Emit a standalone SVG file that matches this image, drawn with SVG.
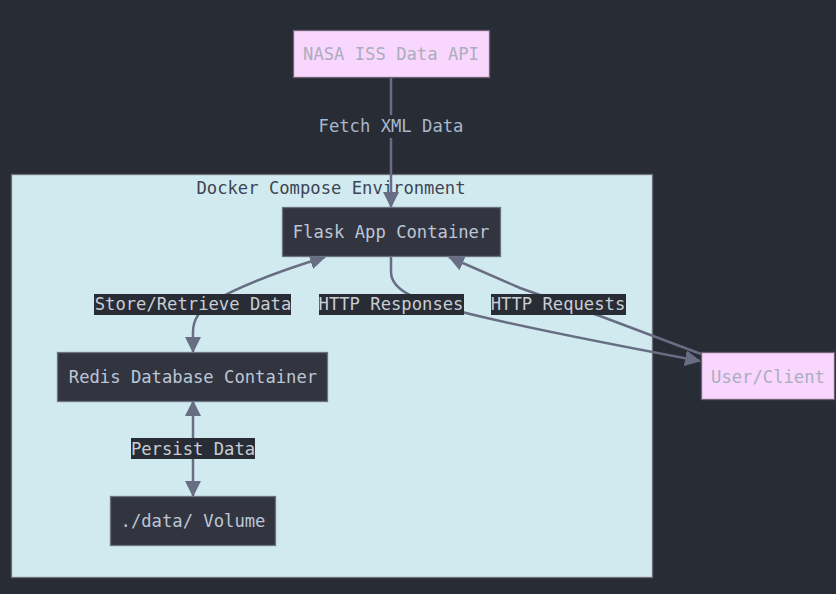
<svg xmlns="http://www.w3.org/2000/svg" width="836" height="594" viewBox="0 0 836 594">
<style>
text{font-family:"DejaVu Sans Mono","Liberation Mono",monospace;font-size:17.2px;text-anchor:middle;dominant-baseline:central}
.dark rect{fill:#32353f;stroke:#6b7282;stroke-width:1.3}
.dark text{fill:#bcc6d6}
.pink rect{fill:#f9d6fd;stroke:#6e6476;stroke-width:1.3}
.pink text{fill:#a9aebe}
.edge{fill:none;stroke:#676e84;stroke-width:2.5}
.lbl rect{fill:#282c34}
.lbl text{fill:#c9cdd6}
.lbl text.fx{fill:#a8b8cc}
</style>
<defs>
<marker id="ah" markerUnits="userSpaceOnUse" markerWidth="16" markerHeight="16" viewBox="0 0 16 16" refX="15" refY="8" orient="auto-start-reverse">
<path d="M0,0 L16,8 L0,16 z" fill="#676e84"/>
</marker>
</defs>
<rect width="836" height="594" fill="#282c34"/>
<g id="cluster">
<rect x="11.5" y="174.5" width="641" height="403" fill="#d1eaf0" stroke="#6c6f76" stroke-width="1.3"/>
<text x="331" y="188" fill="#3d4553">Docker Compose Environment</text>
</g>
<g id="connectors">
<path class="edge" d="M391,77 L391,207" marker-end="url(#ah)"/>
<path class="edge" d="M193,352 L193,332 Q193,314 212,302 Q250,280 325,257" marker-start="url(#ah)" marker-end="url(#ah)"/>
<path class="edge" d="M391,256 L391,272 C391,292 420,302 470,314 C540,331 620,346 700,361" marker-end="url(#ah)"/>
<path class="edge" d="M701,354 L600,316 Q560,302 520,288 L449,257" marker-end="url(#ah)"/>
<path class="edge" d="M193,401 L193,496" marker-start="url(#ah)" marker-end="url(#ah)"/>
</g>
<g id="labels">
<g class="lbl"><rect x="308" y="115" width="166" height="23"/><text class="fx" x="391" y="126">Fetch XML Data</text></g>
<g class="lbl"><rect x="94" y="294" width="197" height="21"/><text x="193" y="304">Store/Retrieve Data</text></g>
<g class="lbl"><rect x="319" y="294" width="145" height="21"/><text x="391" y="304">HTTP Responses</text></g>
<g class="lbl"><rect x="491" y="294" width="135" height="21"/><text x="558" y="304">HTTP Requests</text></g>
<g class="lbl"><rect x="131" y="438" width="124" height="21"/><text x="193" y="449">Persist Data</text></g>
</g>
<g id="nasa" class="pink"><rect x="293.5" y="30.5" width="196" height="47"/><text x="391" y="54">NASA ISS Data API</text></g>
<g id="flask" class="dark"><rect x="282.5" y="207.5" width="218" height="49"/><text x="391" y="232">Flask App Container</text></g>
<g id="redis" class="dark"><rect x="57.5" y="352.5" width="270" height="49"/><text x="193" y="377">Redis Database Container</text></g>
<g id="volume" class="dark"><rect x="110.5" y="496.5" width="165" height="49"/><text x="193" y="521">./data/ Volume</text></g>
<g id="user" class="pink"><rect x="701.5" y="352.5" width="133" height="47"/><text x="768" y="377">User/Client</text></g>
</svg>
